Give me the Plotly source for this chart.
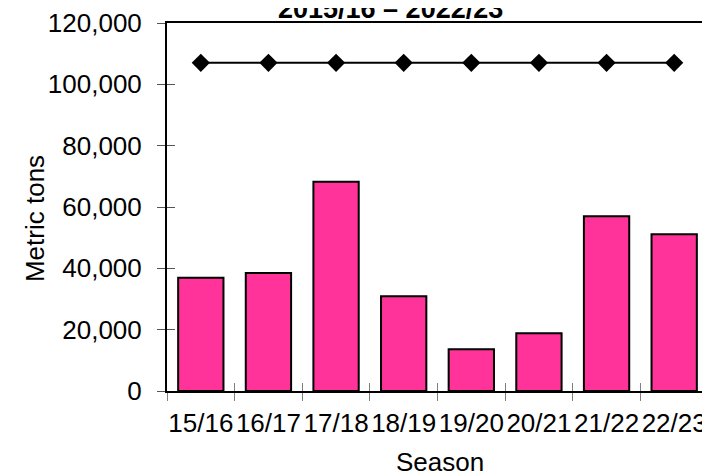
import plotly.graph_objects as go

seasons = ["15/16", "16/17", "17/18", "18/19", "19/20", "20/21", "21/22", "22/23"]
volumes = [36900, 38500, 68200, 30900, 13600, 18800, 57000, 51100]
reference = [107000] * 8

font = "Liberation Sans, Arial, sans-serif"

fig = go.Figure()
fig.add_trace(go.Bar(
    x=seasons, y=volumes,
    marker=dict(color="#FF3399", line=dict(color="black", width=2)),
    width=0.67,
    showlegend=False,
))
# reference line, drawn on overlay axes (also carry the inward tick half)
fig.add_trace(go.Scatter(
    x=seasons, y=reference,
    mode="lines+markers",
    line=dict(color="black", width=2),
    marker=dict(symbol="diamond", size=14, color="black"),
    xaxis="x2", yaxis="y2",
    showlegend=False,
))

# page body adds an 8px offset, so the figure is 8px smaller each way
fig.update_layout(
    width=702, height=468,
    margin=dict(l=159, r=2, t=15, b=85, autoexpand=False),
    paper_bgcolor="white", plot_bgcolor="white",
    font=dict(family=font, color="black"),
    annotations=[
        dict(text="<b>2015/16 – 2022/23</b>", xref="paper", yref="paper",
             x=(382 - 159) / 541, y=1.039, xanchor="center", yanchor="middle",
             showarrow=False, font=dict(size=27, family=font)),
        dict(text="Season", xref="paper", yref="paper", x=0.505, y=-0.193,
             xanchor="center", yanchor="middle", showarrow=False, font=dict(size=26)),
        dict(text="Metric tons", xref="paper", yref="paper", x=-0.244, y=0.47,
             xanchor="center", yanchor="middle", textangle=-90, showarrow=False,
             font=dict(size=26)),
    ],
    xaxis=dict(type="category", categoryorder="array", categoryarray=seasons,
               range=[-0.5, 7.5], tickson="boundaries", tickangle=0, automargin=False,
               ticks="outside", ticklen=8, tickcolor="#808080", tickwidth=1,
               ticklabelstandoff=8,
               showline=True, linecolor="black", linewidth=2, mirror=True,
               showgrid=False, tickfont=dict(size=26)),
    yaxis=dict(range=[0, 120000], dtick=20000, tickformat=",", automargin=False,
               ticks="outside", ticklen=8, tickcolor="#555555", tickwidth=1,
               ticklabelstandoff=10,
               showline=True, linecolor="black", linewidth=2,
               showgrid=False, zeroline=False, tickfont=dict(size=26)),
    xaxis2=dict(type="category", categoryorder="array", categoryarray=seasons,
                overlaying="x", range=[-0.5, 7.5], tickson="boundaries", automargin=False,
                ticks="inside", ticklen=8, tickcolor="#808080", tickwidth=1,
                showticklabels=False, showgrid=False, showline=False),
    yaxis2=dict(overlaying="y", range=[0, 120000], dtick=20000, automargin=False,
                ticks="inside", ticklen=8, tickcolor="#555555", tickwidth=1,
                showticklabels=False, showgrid=False, zeroline=False, showline=False),
    shapes=[dict(type="line", xref="paper", yref="paper", x0=1, x1=1, y0=0, y1=1,
                 line=dict(color="#c8c8c8", width=1))],
    bargap=0.33,
)

fig.write_html("out.html")
